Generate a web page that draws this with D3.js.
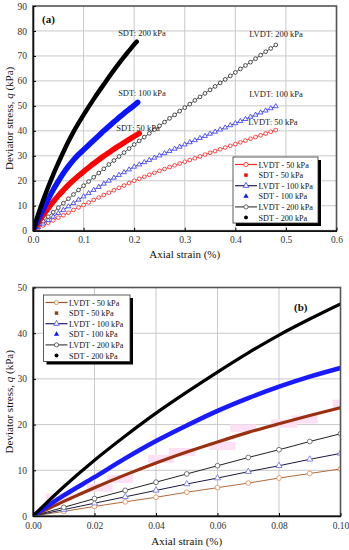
<!DOCTYPE html>
<html>
<head>
<meta charset="utf-8">
<script src="https://cdn.jsdelivr.net/npm/d3@7"></script>
<style>
  body { margin: 0; background: #fff; }
  text { font-family: "Liberation Serif", "DejaVu Serif", serif; }
</style>
</head>
<body>
<div id="chart"></div>
<script>
// strain (%) where LVDT readings were taken
var lvdtStrain = [0, 0.01, 0.02, 0.03, 0.04, 0.05, 0.06, 0.07, 0.08, 0.09, 0.10,
  0.11, 0.12, 0.13, 0.14, 0.15, 0.16, 0.17, 0.18, 0.19, 0.20,
  0.21, 0.22, 0.23, 0.24, 0.25, 0.26, 0.27, 0.28, 0.29, 0.30,
  0.31, 0.32, 0.33, 0.34, 0.35, 0.36, 0.37, 0.38, 0.39, 0.40,
  0.41, 0.42, 0.43, 0.44, 0.45, 0.46, 0.47, 0.48];
var lvdt50 = [0, 1.0, 2.1, 3.1, 4.1, 5.2, 6.2, 7.2, 8.3, 9.3, 10.3,
  11.3, 12.3, 13.3, 14.3, 15.2, 16.2, 17.2, 18.1, 19.1, 20.0,
  20.8, 21.6, 22.4, 23.2, 24.0, 24.7, 25.5, 26.2, 26.9, 27.6,
  28.3, 29.0, 29.7, 30.5, 31.2, 31.9, 32.6, 33.3, 34.0, 34.7,
  35.4, 36.1, 36.8, 37.5, 38.2, 38.9, 39.6, 40.3];
var lvdt100 = [0, 1.4, 2.8, 4.2, 5.6, 7.0, 8.3, 9.7, 11.0, 12.4, 13.7,
  15.0, 16.3, 17.5, 18.8, 20.0, 21.2, 22.3, 23.4, 24.5, 25.6,
  26.5, 27.4, 28.3, 29.2, 30.1, 31.0, 31.9, 32.8, 33.6, 34.5,
  35.4, 36.2, 37.1, 37.9, 38.8, 39.6, 40.5, 41.3, 42.2, 43.0,
  43.9, 44.7, 45.6, 46.4, 47.3, 48.1, 49.0, 49.8];
var lvdt200 = [0, 1.9, 3.8, 5.6, 7.4, 9.2, 11.0, 12.8, 14.5, 16.3, 18.0,
  19.7, 21.4, 23.1, 24.8, 26.5, 28.1, 29.7, 31.3, 32.9, 34.5,
  36.0, 37.5, 39.0, 40.5, 42.0, 43.5, 45.0, 46.4, 47.9, 49.3,
  50.7, 52.2, 53.6, 55.0, 56.4, 57.8, 59.2, 60.6, 62.0, 63.4,
  64.8, 66.2, 67.5, 68.9, 70.3, 71.7, 73.0, 74.4];

// SDT readings (last value of each series sits at its own end strain)
var sdtStrain = [0, 0.01, 0.02, 0.03, 0.04, 0.05, 0.06, 0.07, 0.08, 0.09, 0.10,
  0.11, 0.12, 0.13, 0.14, 0.15, 0.16, 0.17, 0.18, 0.19, 0.20];
var sdtEndStrain = {"50": 0.21, "100": 0.207, "200": 0.205};
var sdt50 = [0, 3.2, 6.2, 9.0, 11.6, 14.0, 16.2, 18.3, 20.2, 22.0, 23.7,
  25.3, 26.9, 28.4, 29.9, 31.3, 32.7, 34.0, 35.3, 36.6, 37.8, 39.0];
var sdt100 = [0, 4.5, 8.5, 12.6, 16.4, 19.8, 23.0, 25.8, 28.3, 30.5, 32.4,
  34.3, 36.2, 38.1, 40.0, 41.8, 43.6, 45.3, 47.0, 48.6, 50.2, 51.4];
var sdt200 = [0, 6.4, 12.2, 17.5, 22.5, 27.1, 31.5, 35.7, 39.6, 43.1, 46.4,
  49.6, 52.7, 55.7, 58.6, 61.5, 64.3, 67.0, 69.6, 72.1, 74.6, 75.7];

var legendLabels = ["LVDT - 50 kPa", "SDT - 50 kPa", "LVDT - 100 kPa",
  "SDT - 100 kPa", "LVDT - 200 kPa", "SDT - 200 kPa"];

var xTicksA = [0, 0.1, 0.2, 0.3, 0.4, 0.5, 0.6];
var yTicksA = [0, 10, 20, 30, 40, 50, 60, 70, 80, 90];
var xTicksB = [0, 0.02, 0.04, 0.06, 0.08, 0.10];
var yTicksB = [0, 10, 20, 30, 40, 50];

function pairs(xs, ys) { return ys.map((q, i) => [xs[i], q]); }
function sdtPairs(ys, key) {
  return ys.map((q, i) => [i < sdtStrain.length ? sdtStrain[i] : sdtEndStrain[key], q]);
}

var svg = d3.select("#chart").append("svg")
  .attr("width", 349).attr("height", 550);

function drawPanel(cfg) {
  var x = d3.scaleLinear().domain(cfg.xDomain).range([cfg.left, cfg.right]);
  var y = d3.scaleLinear().domain(cfg.yDomain).range([cfg.bottom, cfg.top]);
  var g = svg.append("g");

  // grid
  g.append("g").selectAll("line").data(cfg.xTicks.slice(1, -1)).enter().append("line")
    .attr("x1", d => x(d)).attr("x2", d => x(d))
    .attr("y1", cfg.top).attr("y2", cfg.bottom)
    .attr("stroke", "#c9c9c9").attr("stroke-width", 1);
  g.append("g").selectAll("line").data(cfg.yTicks.slice(1, -1)).enter().append("line")
    .attr("y1", d => y(d)).attr("y2", d => y(d))
    .attr("x1", cfg.left).attr("x2", cfg.right)
    .attr("stroke", "#c9c9c9").attr("stroke-width", 1);

  var clipId = "clip" + cfg.name;
  svg.append("clipPath").attr("id", clipId).append("rect")
    .attr("x", cfg.left).attr("y", cfg.top)
    .attr("width", cfg.right - cfg.left).attr("height", cfg.bottom - cfg.top);
  var plot = g.append("g").attr("clip-path", "url(#" + clipId + ")");

  var line = d3.line().x(d => x(d[0])).y(d => y(d[1])).curve(d3.curveMonotoneX);
  var inView = d => d[0] <= cfg.xDomain[1] + 1e-9;

  cfg.lvdt.forEach(s => {
    var pts = pairs(lvdtStrain, s.values).filter(inView);
    plot.append("path").datum(pts).attr("d", line)
      .attr("fill", "none").attr("stroke", s.line).attr("stroke-width", s.lw);
    plot.append("g").selectAll("path").data(pts).enter().append("path")
      .attr("transform", d => `translate(${x(d[0])},${y(d[1])})`)
      .attr("d", d3.symbol(s.symbol).size(s.size))
      .attr("fill", "white").attr("stroke", s.marker).attr("stroke-width", 0.8);
  });

  cfg.sdt.forEach(s => {
    var pts = sdtPairs(s.values, s.key).filter(inView);
    if (s.pink) {
      plot.append("g").selectAll("rect").data(pts.slice(1)).enter().append("rect")
        .attr("x", (d, i) => x(d[0]) - 13 + (i % 2 ? 5 : -5))
        .attr("y", (d, i) => y(d[1]) - 4 + (i % 3 - 1) * 4)
        .attr("width", 26).attr("height", 8)
        .attr("fill", "#fde0f3");
    }
    plot.append("path").datum(pts).attr("d", line)
      .attr("fill", "none").attr("stroke", s.color).attr("stroke-width", s.lw)
      .attr("stroke-linecap", "round");
  });

  // frame
  g.append("rect").attr("x", cfg.left).attr("y", cfg.top)
    .attr("width", cfg.right - cfg.left).attr("height", cfg.bottom - cfg.top)
    .attr("fill", "none").attr("stroke", "#555").attr("stroke-width", 1.6);

  var xAxis = d3.axisBottom(x).tickValues(cfg.xTicks).tickFormat(d3.format(cfg.xFmt))
    .tickSizeInner(-3).tickSizeOuter(0).tickPadding(6);
  var yAxis = d3.axisLeft(y).tickValues(cfg.yTicks).tickFormat(d3.format("d"))
    .tickSizeInner(-3).tickSizeOuter(0).tickPadding(6);
  var xg = g.append("g").attr("transform", `translate(0,${cfg.bottom})`).call(xAxis);
  var yg = g.append("g").attr("transform", `translate(${cfg.left},0)`).call(yAxis);
  [xg, yg].forEach(a => {
    a.select(".domain").attr("stroke", "#111").attr("stroke-width", 1.6);
    a.selectAll("text").attr("font-size", "9.5px").attr("fill", "#333")
      .style("font-family", "Liberation Serif");
  });

  g.append("text").attr("x", (cfg.left + cfg.right) / 2).attr("y", cfg.xLabelY)
    .attr("text-anchor", "middle").attr("font-size", "11px").attr("fill", "#111")
    .text("Axial strain (%)");
  var yl = g.append("text")
    .attr("transform", `translate(13,${(cfg.top + cfg.bottom) / 2}) rotate(-90)`)
    .attr("text-anchor", "middle").attr("font-size", "11px").attr("fill", "#111");
  yl.append("tspan").text("Deviator stress, ");
  yl.append("tspan").attr("font-style", "italic").text("q");
  yl.append("tspan").text(" (kPa)");

  g.append("text").attr("x", cfg.tag[0]).attr("y", cfg.tag[1])
    .attr("font-size", "11px").attr("font-weight", "bold").attr("fill", "#111")
    .text(cfg.name === "a" ? "(a)" : "(b)");

  (cfg.notes || []).forEach(n => {
    g.append("text").attr("x", n[0]).attr("y", n[1]).attr("text-anchor", "middle")
      .attr("font-size", "8.5px").attr("fill", "#222").text(n[2]);
  });

  // legend with shadow
  var L = cfg.legend;
  var lg = g.append("g");
  lg.append("rect").attr("x", L.x + 3).attr("y", L.y + 3).attr("width", L.w).attr("height", L.h)
    .attr("fill", "#000");
  lg.append("rect").attr("x", L.x).attr("y", L.y).attr("width", L.w).attr("height", L.h)
    .attr("fill", "#fff").attr("stroke", "#333").attr("stroke-width", 0.8);
  L.items.forEach((it, i) => {
    var cy = L.y + 7.5 + i * 10.6;
    if (it.line) {
      lg.append("line").attr("x1", L.x + 2).attr("x2", L.x + 24).attr("y1", cy).attr("y2", cy)
        .attr("stroke", it.line).attr("stroke-width", 1.2);
      lg.append("path").attr("transform", `translate(${L.x + 13},${cy})`)
        .attr("d", d3.symbol(it.symbol).size(14))
        .attr("fill", "white").attr("stroke", it.marker).attr("stroke-width", 0.8);
    } else {
      lg.append("path").attr("transform", `translate(${L.x + 13},${cy})`)
        .attr("d", d3.symbol(it.symbol).size(12)).attr("fill", it.marker);
    }
    lg.append("text").attr("x", L.x + 25.5).attr("y", cy + 3)
      .attr("font-size", "8.2px").attr("fill", "#111").text(legendLabels[i]);
  });
}

drawPanel({
  name: "a", left: 33, right: 336.5, top: 6, bottom: 230.7,
  xDomain: [0, 0.6], yDomain: [0, 90], xTicks: xTicksA, yTicks: yTicksA, xFmt: ".1f",
  xLabelY: 258, tag: [42, 23],
  lvdt: [
    {values: lvdt50, line: "#ff2020", marker: "#ff2020", symbol: d3.symbolCircle, size: 11, lw: 0.8},
    {values: lvdt100, line: "#202080", marker: "#3030ff", symbol: d3.symbolTriangle, size: 10, lw: 0.8},
    {values: lvdt200, line: "#333", marker: "#222", symbol: d3.symbolCircle, size: 11, lw: 0.8}
  ],
  sdt: [
    {values: sdt50, key: "50", color: "#ff0000", lw: 5.5},
    {values: sdt100, key: "100", color: "#0a14ff", lw: 5.5},
    {values: sdt200, key: "200", color: "#000", lw: 4.5}
  ],
  notes: [[142, 36, "SDT: 200 kPa"], [142, 96, "SDT: 100 kPa"], [138, 131, "SDT: 50 kPa"],
          [276, 37, "LVDT: 200 kPa"], [276, 97, "LVDT: 100 kPa"], [273, 125, "LVDT: 50 kPa"]],
  legend: {x: 233, y: 157, w: 85, h: 66, items: [
    {line: "#ff2020", marker: "#ff2020", symbol: d3.symbolCircle},
    {marker: "#ff0000", symbol: d3.symbolSquare},
    {line: "#202060", marker: "#3030ff", symbol: d3.symbolTriangle},
    {marker: "#0a14ff", symbol: d3.symbolTriangle},
    {line: "#444", marker: "#444", symbol: d3.symbolCircle},
    {marker: "#000", symbol: d3.symbolCircle}
  ]}
});

drawPanel({
  name: "b", left: 33, right: 340.5, top: 287.5, bottom: 516,
  xDomain: [0, 0.1], yDomain: [0, 50], xTicks: xTicksB, yTicks: yTicksB, xFmt: ".2f",
  xLabelY: 545, tag: [294, 311],
  lvdt: [
    {values: lvdt50, line: "#b06a3a", marker: "#e08a50", symbol: d3.symbolCircle, size: 18, lw: 1},
    {values: lvdt100, line: "#1a1a40", marker: "#6a6ae0", symbol: d3.symbolTriangle, size: 16, lw: 1},
    {values: lvdt200, line: "#222", marker: "#555", symbol: d3.symbolCircle, size: 18, lw: 1}
  ],
  sdt: [
    {values: sdt50, key: "50", color: "#9a3010", lw: 3.2, pink: true},
    {values: sdt100, key: "100", color: "#1a1aff", lw: 4.5},
    {values: sdt200, key: "200", color: "#000", lw: 3.2}
  ],
  legend: {x: 43.5, y: 295, w: 86.5, h: 66.5, items: [
    {line: "#a0522d", marker: "#d2884a", symbol: d3.symbolCircle},
    {marker: "#8b4513", symbol: d3.symbolSquare},
    {line: "#202060", marker: "#4040ff", symbol: d3.symbolTriangle},
    {marker: "#0a14ff", symbol: d3.symbolTriangle},
    {line: "#444", marker: "#444", symbol: d3.symbolCircle},
    {marker: "#000", symbol: d3.symbolCircle}
  ]}
});
</script>
</body>
</html>
